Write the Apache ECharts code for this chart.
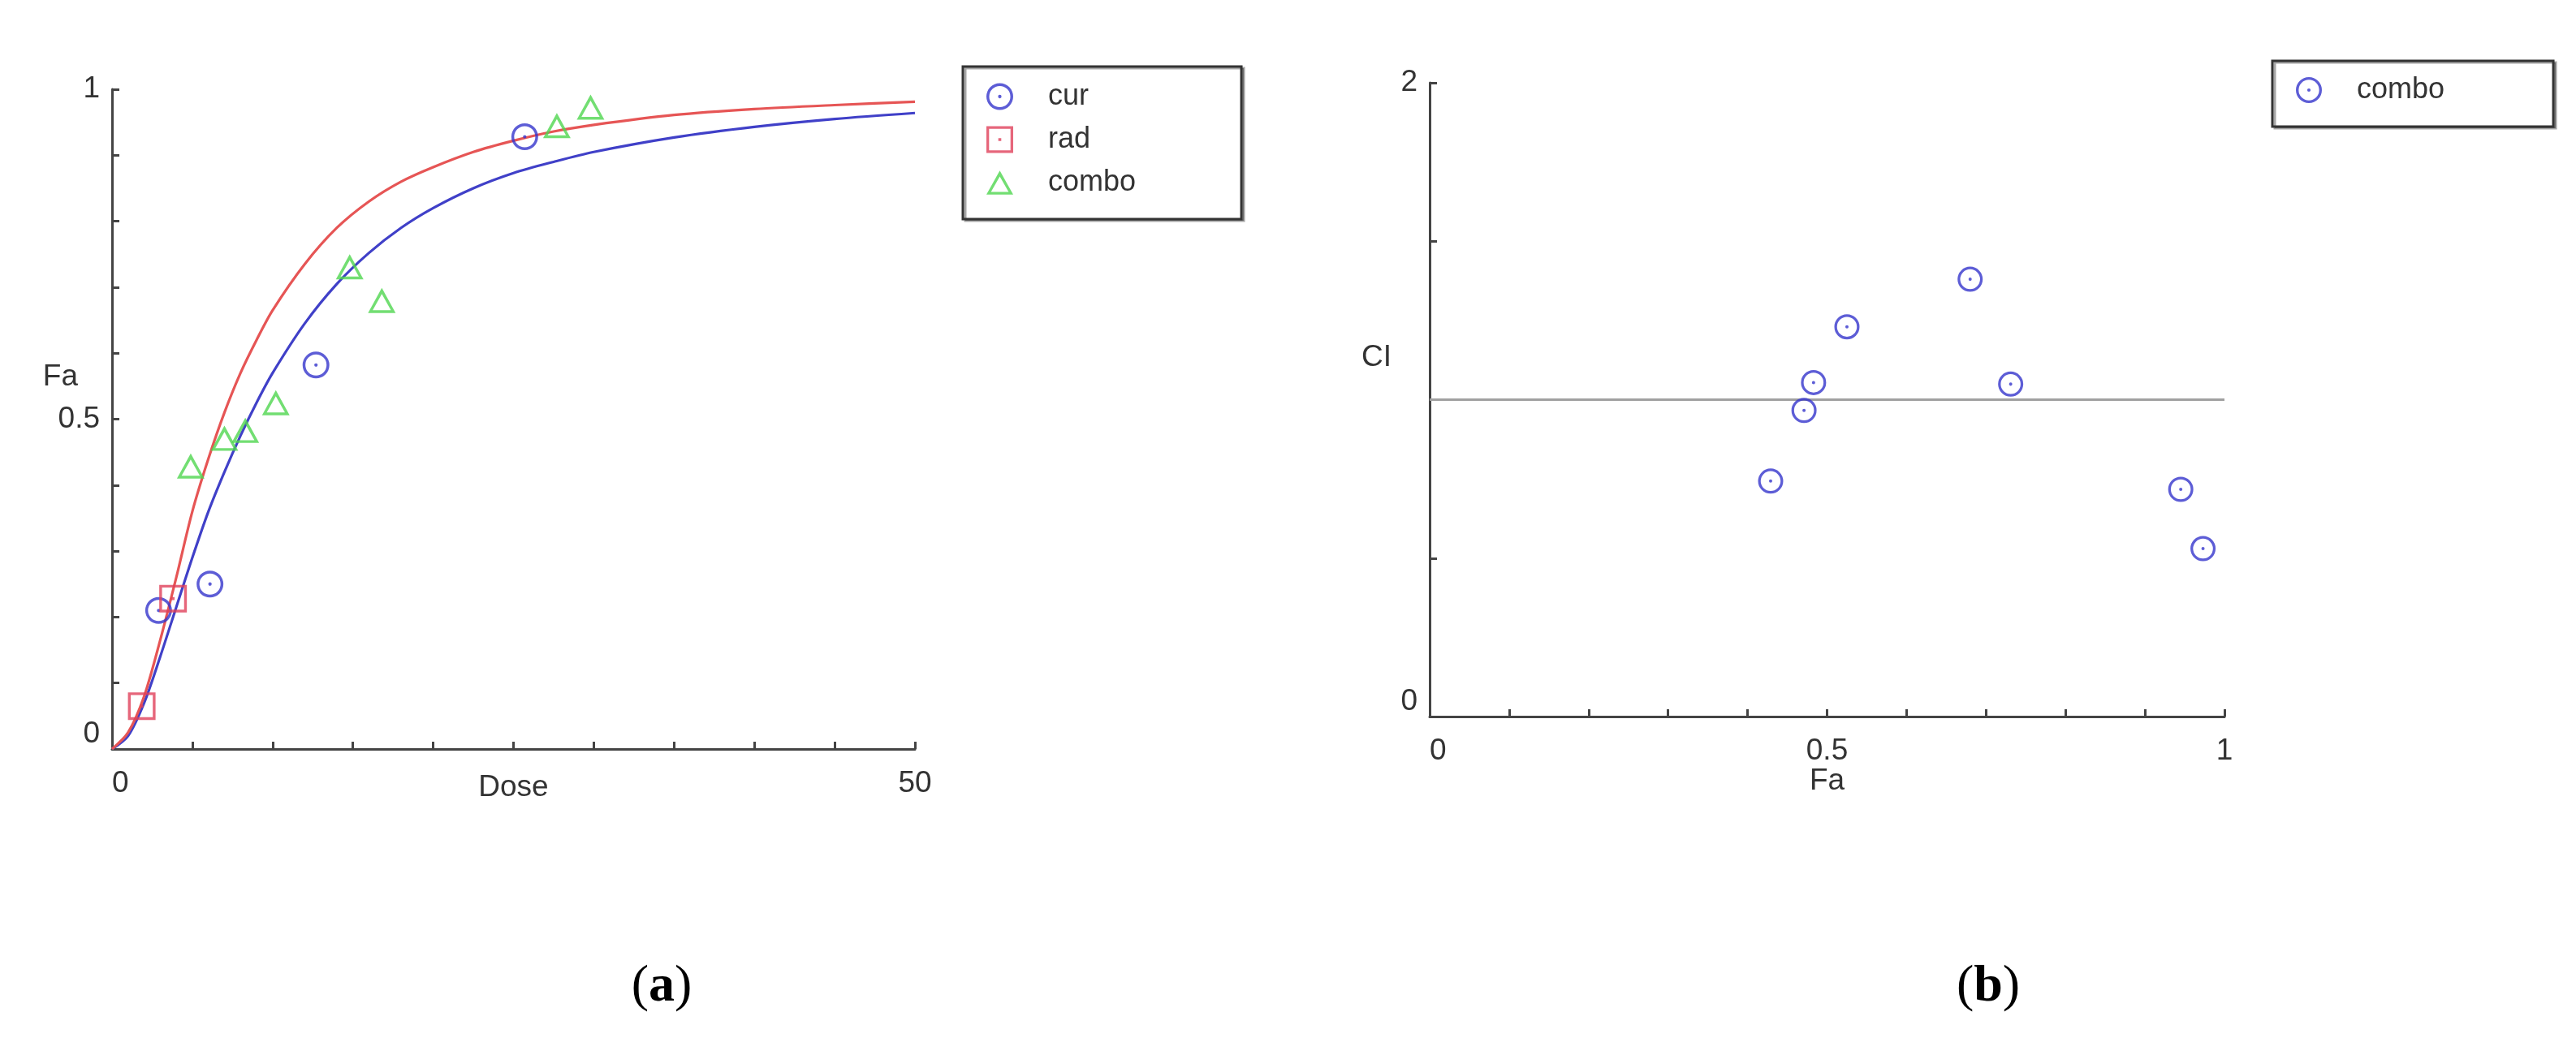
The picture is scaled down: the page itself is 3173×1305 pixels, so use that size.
<!DOCTYPE html>
<html>
<head>
<meta charset="utf-8">
<script src="https://cdn.jsdelivr.net/npm/echarts@6/dist/echarts.min.js"></script>
<style>
html,body{margin:0;padding:0;background:#fff;}
#chart{width:3173px;height:1305px;}
</style>
</head>
<body>
<div id="chart"></div>
<script>
// ---------- data ----------
// (a) fitted dose-effect curves
const fitDose = [0, 1, 2, 3, 4, 5, 6, 7, 8, 9, 10, 12, 14, 16, 18, 20, 22.5, 25, 27.5, 30, 35, 40, 45, 50];
const curFit  = [0, 0.02, 0.07, 0.14, 0.215, 0.29, 0.36, 0.42, 0.475, 0.525, 0.57, 0.645, 0.705, 0.752, 0.79, 0.82, 0.85, 0.873, 0.89, 0.905, 0.927, 0.943, 0.955, 0.964];
const radFit  = [0, 0.025, 0.08, 0.165, 0.26, 0.36, 0.44, 0.51, 0.57, 0.62, 0.665, 0.735, 0.79, 0.83, 0.86, 0.882, 0.905, 0.922, 0.936, 0.946, 0.961, 0.970, 0.976, 0.981];
// (a) measured points
const curDose   = [2.9, 6.1, 12.7, 25.7];
const curFa     = [0.21, 0.25, 0.582, 0.928];
const radDose   = [1.85, 3.8];
const radFa     = [0.065, 0.228];
const comboDose = [4.9, 7.0, 8.3, 10.2, 14.8, 16.8, 27.7, 29.8];
const comboFa   = [0.429, 0.471, 0.483, 0.525, 0.731, 0.680, 0.945, 0.973];
// (b) combination index
const ciFa  = [0.429, 0.471, 0.483, 0.525, 0.680, 0.731, 0.945, 0.973];
const ciVal = [0.743, 0.966, 1.054, 1.230, 1.380, 1.049, 0.717, 0.530];
const refFa = [0, 1];
const refCi = [1, 1];
// printed tick labels and axis titles
const leftXLabels  = [0, 50];
const leftYLabels  = [0, 0.5, 1];
const rightXLabels = [0, 0.5, 1];
const rightYLabels = [0, 2];
const axisTitles = { aX: 'Dose', aY: 'Fa', bX: 'Fa', bY: 'CI' };
const legendA = ['cur', 'rad', 'combo'];
const legendB = ['combo'];
const panelTags = ['a', 'b'];

// ---------- styles ----------
const FONT = '"Liberation Sans", Arial, sans-serif';
const TXT = '#333333';
const AX = '#444444';
const BLUE = '#3535cc';
const BLUE_LINE = '#4040c8';
const RED = '#e0405a';
const RED_LINE = '#e65555';
const GREEN = '#4fd64f';

const ringCircle = 'path://M0,-10 A10,10 0 1,1 0,10 A10,10 0 1,1 0,-10 Z M0,-7.9 A7.9,7.9 0 1,0 0,7.9 A7.9,7.9 0 1,0 0,-7.9 Z M0,-1.3 A1.3,1.3 0 1,1 0,1.3 A1.3,1.3 0 1,1 0,-1.3 Z';
const ringSquare = 'path://M-10,-10 L10,-10 L10,10 L-10,10 Z M-8,-8 L-8,8 L8,8 L8,-8 Z M-1.1,-1.1 L1.1,-1.1 L1.1,1.1 L-1.1,1.1 Z';
const ringTriangle = 'path://M0,-10 L10,8 L-10,8 Z M0,-5.6 L-6.6,6 L6.6,6 Z';

const zip = (a, b) => a.map((v, i) => [v, b[i]]);
const labelFmt = list => v => list.some(l => Math.abs(l - v) < 1e-9) ? String(+v.toFixed(6)) : '';

function xAxisCfg(grid, min, max, interval, labels, name, nameGap) {
  return {
    type: 'value', gridIndex: grid, min, max, interval,
    axisLine: { show: true, onZero: false, lineStyle: { color: AX, width: 3 } },
    axisTick: { show: true, inside: true, length: 9, lineStyle: { color: AX, width: 3 } },
    splitLine: { show: false },
    axisLabel: { formatter: labelFmt(labels), fontSize: 37, color: TXT, fontFamily: FONT, margin: 24, alignMinLabel: 'left' },
    name, nameLocation: 'middle', nameGap, nameMoveOverlap: false,
    nameTextStyle: { fontSize: 37, color: TXT, fontFamily: FONT }
  };
}
function yAxisCfg(grid, min, max, interval, labels) {
  return {
    type: 'value', gridIndex: grid, min, max, interval,
    axisLine: { show: true, onZero: false, lineStyle: { color: AX, width: 3 } },
    axisTick: { show: true, inside: true, length: 9, lineStyle: { color: AX, width: 3 } },
    splitLine: { show: false },
    axisLabel: { formatter: labelFmt(labels), fontSize: 37, color: TXT, fontFamily: FONT, margin: 15, verticalAlignMinLabel: 'bottom' }
  };
}
function tagText(letter, x, y) {
  return { type: 'text', x, y, style: { text: '({b|' + letter + '})', font: '64px "Liberation Serif", "Times New Roman", serif', fill: '#000', align: 'center', verticalAlign: 'middle', rich: { b: { fontWeight: 'bold', fontSize: 64, fontFamily: '"Liberation Serif", serif', fill: '#000' } } } };
}
function yTitle(text, x, y) {
  return { type: 'text', x, y, style: { text, font: '37px ' + FONT, fill: TXT, align: 'right', verticalAlign: 'middle' } };
}

const chart = echarts.init(document.getElementById('chart'), null, { renderer: 'canvas' });
chart.setOption({
  animation: false,
  backgroundColor: '#ffffff',
  grid: [
    { left: 138, top: 110, width: 989, height: 813 },
    { left: 1761, top: 102, width: 979, height: 781 }
  ],
  xAxis: [
    xAxisCfg(0, 0, 50, 5, leftXLabels, axisTitles.aX, 29),
    xAxisCfg(1, 0, 1, 0.1, rightXLabels, axisTitles.bX, 61)
  ],
  yAxis: [
    yAxisCfg(0, 0, 1, 0.1, leftYLabels),
    yAxisCfg(1, 0, 2, 0.5, rightYLabels)
  ],
  legend: [
    {
      data: legendA, orient: 'vertical', left: 1186, top: 82,
      padding: [19, 130, 27, 29], itemWidth: 33, itemHeight: 33, itemGap: 17,
      borderColor: '#333', borderWidth: 3, backgroundColor: '#fff',
      shadowColor: 'rgba(0,0,0,0.35)', shadowOffsetX: 3, shadowOffsetY: 2, shadowBlur: 0,
      textStyle: { fontSize: 36, color: TXT, fontFamily: FONT, padding: [0, 0, 0, 38] },
      selectedMode: false
    },
    {
      data: ['CI combo'], orient: 'vertical', left: 2799, top: 75,
      padding: [18, 134, 27, 29], itemWidth: 32, itemHeight: 32,
      borderColor: '#333', borderWidth: 3, backgroundColor: '#fff',
      shadowColor: 'rgba(0,0,0,0.35)', shadowOffsetX: 3, shadowOffsetY: 2, shadowBlur: 0,
      formatter: () => legendB[0],
      textStyle: { fontSize: 36, color: TXT, fontFamily: FONT, padding: [0, 0, 0, 38] },
      selectedMode: false
    }
  ],
  graphic: [
    yTitle(axisTitles.aY, 96, 465),
    yTitle(axisTitles.bY, 1714, 441),
    tagText(panelTags[0], 815, 1216),
    tagText(panelTags[1], 2449, 1216)
  ],
  series: [
    { type: 'line', name: 'cur fit', xAxisIndex: 0, yAxisIndex: 0, data: zip(fitDose, curFit), showSymbol: false, smooth: 0.3, silent: true, lineStyle: { color: BLUE_LINE, width: 3.2 }, z: 2 },
    { type: 'line', name: 'rad fit', xAxisIndex: 0, yAxisIndex: 0, data: zip(fitDose, radFit), showSymbol: false, smooth: 0.3, silent: true, lineStyle: { color: RED_LINE, width: 3.2 }, z: 2 },
    { type: 'scatter', name: 'cur', xAxisIndex: 0, yAxisIndex: 0, data: zip(curDose, curFa), symbol: ringCircle, symbolSize: 33, itemStyle: { color: BLUE }, z: 3 },
    { type: 'scatter', name: 'rad', xAxisIndex: 0, yAxisIndex: 0, data: zip(radDose, radFa), symbol: ringSquare, symbolSize: 34, itemStyle: { color: RED }, z: 3 },
    { type: 'scatter', name: 'combo', xAxisIndex: 0, yAxisIndex: 0, data: zip(comboDose, comboFa), symbol: ringTriangle, symbolSize: [34, 31], itemStyle: { color: GREEN }, z: 3 },
    { type: 'line', name: 'CI=1', xAxisIndex: 1, yAxisIndex: 1, data: zip(refFa, refCi), showSymbol: false, silent: true, lineStyle: { color: '#a0a0a0', width: 3 }, z: 2 },
    { type: 'scatter', name: 'CI combo', xAxisIndex: 1, yAxisIndex: 1, data: zip(ciFa, ciVal), symbol: ringCircle, symbolSize: 31, itemStyle: { color: BLUE }, z: 3 }
  ]
});
</script>
</body>
</html>
